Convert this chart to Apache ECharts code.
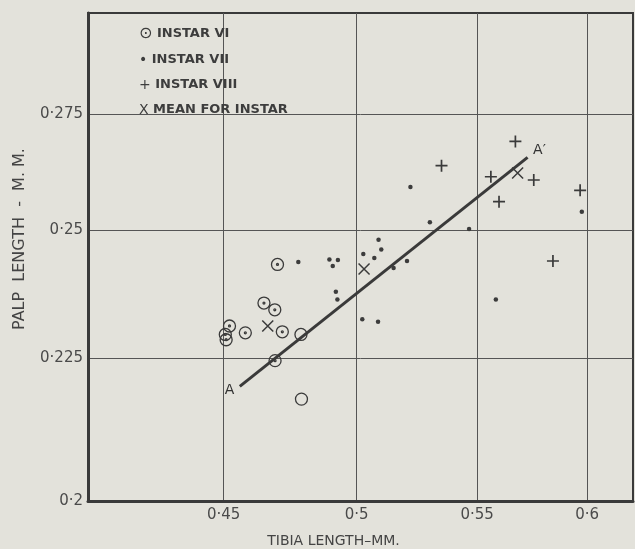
<!DOCTYPE html>
<html>
<head>
<meta charset="utf-8">
<script src="https://cdn.jsdelivr.net/npm/echarts@6/dist/echarts.min.js"></script>
<style>
html,body{margin:0;padding:0;background:#e3e2db;}
#chart{width:635px;height:549px;}
</style>
</head>
<body>
<div id="chart"></div>
<script>
// ---- data (tibia length mm, palp length mm) ----
const xTicks = [0.45, 0.5, 0.55, 0.6];
const yTicks = [0.2, 0.225, 0.25, 0.275];

const instar6 = [[0.4696,0.2430],[0.4646,0.2354],[0.4686,0.2341],[0.4521,0.2310],[0.4506,0.2294],
  [0.4509,0.2284],[0.4578,0.2297],[0.4714,0.2299],[0.4784,0.2294],[0.4687,0.2245],[0.4786,0.2175]];
const instar6Open = [8, 10]; // circles drawn without centre dot
const instar7 = [[0.4774,0.2435],[0.4893,0.2440],[0.4926,0.2439],[0.4906,0.2427],[0.4918,0.2376],
  [0.4924,0.2361],[0.5026,0.2451],[0.5087,0.2480],[0.5098,0.2460],[0.5070,0.2443],[0.5203,0.2437],
  [0.5148,0.2423],[0.5022,0.2323],[0.5085,0.2318],[0.5217,0.2590],[0.5298,0.2516],[0.5465,0.2502],
  [0.5975,0.2538],[0.5582,0.2361]];
const instar8 = [[0.5347,0.2636],[0.5669,0.2689],[0.5560,0.2612],[0.5752,0.2605],[0.5596,0.2559],
  [0.5967,0.2583],[0.5840,0.2437]];
const means = [[0.4660,0.2310],[0.5029,0.2421],[0.5679,0.2620]];
const lineAA = [[0.4558,0.2198],[0.5724,0.2654]];
const lineLabels = ['A', 'A\u2032'];

const legendGlyph = {
  'INSTAR VI': '{c|\u2299}',
  'INSTAR VII': '{g|\u2022}',
  'INSTAR VIII': '{g|+}',
  'MEAN FOR INSTAR': '{g|X}'
};

const ink = '#3a3a3a';
const fmt = v => String(v).replace('.', '\u00b7');
const circDot = 'path://M10,5A5,5,0,1,1,0,5A5,5,0,1,1,10,5Z M5.8,5A0.8,0.8,0,1,1,4.2,5A0.8,0.8,0,1,1,5.8,5Z';
const circOpen = 'path://M10,5A5,5,0,1,1,0,5A5,5,0,1,1,10,5Z';
const plusPath = 'path://M5,0L5,10M0,5L10,5';
const xPath = 'path://M0,0L10,10M10,0L0,10';

const chart = echarts.init(document.getElementById('chart'));
chart.setOption({
  backgroundColor: '#e3e2db',
  animation: false,
  textStyle: { fontFamily: 'DejaVu Sans' },
  grid: { left: 88, right: 2, top: 13, bottom: 48, show: true, borderColor: ink, borderWidth: 2,
    containLabel: false, outerBoundsMode: 'none' },
  legend: {
    orient: 'vertical', left: 129, top: 21,
    icon: 'none', itemWidth: 0, itemHeight: 14, itemGap: 11,
    selectedMode: false,
    data: ['INSTAR VI', 'INSTAR VII', 'INSTAR VIII', 'MEAN FOR INSTAR'],
    formatter: n => legendGlyph[n] + ' ' + n,
    textStyle: {
      color: '#3d3d3d', fontSize: 13, fontWeight: 'bold', lineHeight: 14,
      rich: {
        c: { fontSize: 16, fontWeight: 'normal', color: '#3d3d3d', lineHeight: 14 },
        g: { fontSize: 14, fontWeight: 'normal', color: '#3d3d3d', lineHeight: 14 }
      }
    }
  },
  xAxis: {
    type: 'log', logBase: 10, min: 0.4042, max: 0.6222,
    name: 'TIBIA LENGTH\u2013MM.', nameLocation: 'middle', nameGap: 33,
    nameTextStyle: { color: '#444', fontSize: 14, padding: [0, 54, 0, 0] },
    axisLine: { show: true, onZero: false, lineStyle: { color: ink, width: 3 } },
    axisTick: { show: false, customValues: xTicks },
    axisLabel: { customValues: xTicks, formatter: fmt, color: '#4a4a4a', fontSize: 15, margin: 7 },
    splitLine: { show: true, lineStyle: { color: '#555', width: 1 } },
    minorTick: { show: false }, minorSplitLine: { show: false }
  },
  yAxis: {
    type: 'log', logBase: 10, min: 0.2, max: 0.2989,
    name: 'PALP  LENGTH  -  M. M.', nameLocation: 'middle', nameGap: 60,
    nameTextStyle: { color: '#444', fontSize: 16, padding: [0, 0, 0, 36] },
    axisLine: { show: true, onZero: false, lineStyle: { color: ink, width: 3 } },
    axisTick: { show: false, customValues: yTicks },
    axisLabel: { customValues: yTicks, formatter: fmt, color: '#4a4a4a', fontSize: 15, margin: 5 },
    splitLine: { show: true, lineStyle: { color: '#555', width: 1 } },
    minorTick: { show: false }, minorSplitLine: { show: false }
  },
  series: [
    {
      name: 'A-A\u2032', type: 'line', data: lineAA.map((p, i) => ({
        value: p,
        label: { show: true, formatter: lineLabels[i], position: i === 0 ? 'left' : 'right',
          offset: i === 0 ? [0, 4] : [0, -7], color: '#333', fontSize: 14 }
      })),
      symbol: 'circle', symbolSize: 1, showSymbol: true,
      itemStyle: { color: 'transparent' },
      lineStyle: { color: ink, width: 3 }, silent: true, z: 1
    },
    {
      name: 'INSTAR VI', type: 'scatter',
      data: instar6.map((p, i) => instar6Open.includes(i) ? { value: p, symbol: circOpen } : p),
      symbol: circDot, symbolSize: 12,
      itemStyle: { color: 'transparent', borderColor: ink, borderWidth: 1.3, opacity: 1 }, z: 3
    },
    {
      name: 'INSTAR VII', type: 'scatter', data: instar7,
      symbol: 'circle', symbolSize: 4.5, itemStyle: { color: '#3c3c3c', opacity: 1 }, z: 3
    },
    {
      name: 'INSTAR VIII', type: 'scatter', data: instar8,
      symbol: plusPath, symbolSize: 12,
      itemStyle: { color: 'transparent', borderColor: ink, borderWidth: 1.7, opacity: 1 }, z: 3
    },
    {
      name: 'MEAN FOR INSTAR', type: 'scatter', data: means,
      symbol: xPath, symbolSize: 11,
      itemStyle: { color: 'transparent', borderColor: ink, borderWidth: 1.5, opacity: 1 }, z: 3
    }
  ]
});
</script>
</body>
</html>
